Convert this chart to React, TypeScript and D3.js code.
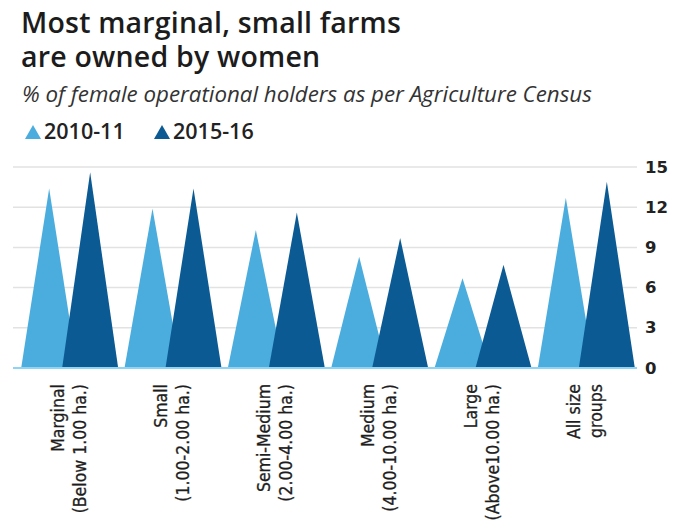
import React from "react";
import * as d3 from "d3";

const categories = ["Marginal", "Small", "Semi-Medium", "Medium", "Large", "All size groups"];
const labelLines = [
  ["Marginal", "(Below 1.00 ha.)"],
  ["Small", "(1.00-2.00 ha.)"],
  ["Semi-Medium", "(2.00-4.00 ha.)"],
  ["Medium", "(4.00-10.00 ha.)"],
  ["Large", "(Above10.00 ha.)"],
  ["All size", "groups"],
];
const series2010 = [13.4, 11.9, 10.3, 8.3, 6.7, 12.7];
const series2015 = [14.6, 13.4, 11.6, 9.7, 7.7, 13.9];
const seriesNames = ["2010-11", "2015-16"];
const seriesColors = ["#4badde", "#0b5a93"];
const yTicks = [0, 3, 6, 9, 12, 15];

const W = 677;
const H = 528;

export default function App() {
  const y = d3.scaleLinear().domain([0, 15]).range([368, 167]);
  const x = d3.scaleBand<string>().domain(categories).range([18, 638]);
  const sub = d3.scaleBand<string>().domain(seriesNames).range([-41, 41]).padding(0);
  const halfW = 28;
  const line = d3.line<[number, number]>();
  const gridX0 = 13;
  const gridX1 = 637;
  const allSeries = [series2010, series2015];
  const legendX = [25, 154];

  return (
    <svg width={W} height={H} style={{ position: "absolute", left: 0, top: 0, background: "#fff" }}>
      <rect x={0} y={0} width={W} height={H} fill="#fff" />
      <text x={21} y={33} fontFamily="'Open Sans', sans-serif" fontWeight={600} fontSize={28.5} letterSpacing={0.2} fill="#1c1c1c">
        Most marginal, small farms
      </text>
      <text x={21} y={67} fontFamily="'Open Sans', sans-serif" fontWeight={600} fontSize={28.5} letterSpacing={0.2} fill="#1c1c1c">
        are owned by women
      </text>
      <text x={22} y={102} fontFamily="'Open Sans', sans-serif" fontStyle="italic" fontSize={22.3} fill="#333">
        % of female operational holders as per Agriculture Census
      </text>
      {seriesNames.map((s, i) => {
        const lx = legendX[i];
        return (
          <g key={s}>
            <path d={line([[lx, 139], [lx + 8, 125], [lx + 16, 139]]) + "Z"} fill={seriesColors[i]} />
            <text x={lx + 19} y={139} fontFamily="'Open Sans', sans-serif" fontWeight={600} fontSize={21.5} fill="#222">
              {s}
            </text>
          </g>
        );
      })}
      {yTicks.filter((t) => t > 0).map((t) => (
        <line key={t} x1={gridX0} x2={gridX1} y1={y(t)} y2={y(t)} stroke="#e2e2e2" strokeWidth={1.5} />
      ))}
      {categories.map((c, ci) => (
        <g key={c}>
          {allSeries.map((vals, si) => {
            const px = (x(c) as number) + x.bandwidth() / 2 + (sub(seriesNames[si]) as number) + sub.bandwidth() / 2;
            const pts: [number, number][] = [
              [px - halfW, y(0)],
              [px, y(vals[ci])],
              [px + halfW, y(0)],
            ];
            return <path key={si} d={line(pts) + "Z"} fill={seriesColors[si]} />;
          })}
        </g>
      ))}
      <line x1={gridX0} x2={gridX1} y1={y(0)} y2={y(0)} stroke="#8fd4f2" strokeWidth={2} />
      {yTicks.map((t) => (
        <text
          key={t}
          x={645}
          y={y(t)}
          dominantBaseline="central"
          fontFamily="'DejaVu Sans', sans-serif"
          fontWeight="bold"
          fontSize={16.5}
          fill="#222"
        >
          {t}
        </text>
      ))}
      {categories.map((c, ci) => {
        const cx = (x(c) as number) + x.bandwidth() / 2 - 1;
        const lines = labelLines[ci];
        return (
          <g key={c}>
            {lines.map((ln, li) => {
              const lxp = cx + (li - (lines.length - 1) / 2) * 22;
              return (
                <text
                  key={li}
                  transform={`translate(${lxp},384) rotate(-90)`}
                  textAnchor="end"
                  dominantBaseline="central"
                  fontFamily="'Liberation Sans Narrow', 'DejaVu Sans Condensed', sans-serif"
                  fontSize={17.5}
                  fill="#1e1e1e"
                  stroke="#1e1e1e"
                  strokeWidth={0.3}
                >
                  {ln}
                </text>
              );
            })}
          </g>
        );
      })}
    </svg>
  );
}
